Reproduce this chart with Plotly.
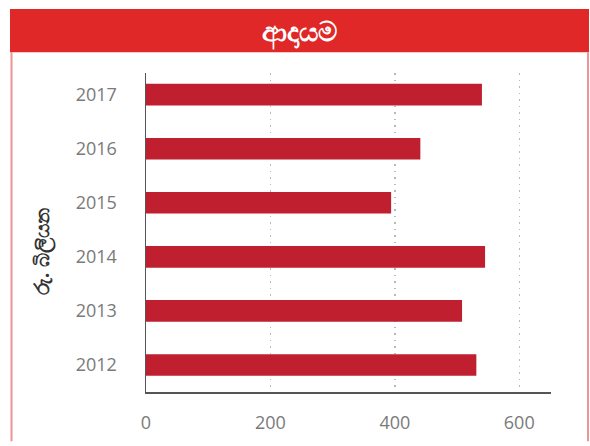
import plotly.graph_objects as go

years = ["2012", "2013", "2014", "2015", "2016", "2017"]
revenue = [531, 508, 545, 394, 441, 540]
x_ticks = [0, 200, 400, 600]
title_text = "ආදායම"
y_title = "රු. බිලියන"

W, H = 590, 446
L, R, T, B = 146, 551, 73, 397
pw, ph = R - L, B - T

def px(x):
    return (x - L) / pw

def py(y):
    return (B - y) / ph

fig = go.Figure()
fig.add_trace(go.Bar(
    y=years, x=revenue, orientation="h", width=0.4,
    marker=dict(color="#C01F2F", line=dict(width=0)),
    hoverinfo="skip",
))

font_fam = "Open Sans, Noto Sans, sans-serif"

fig.update_layout(
    width=W, height=H,
    margin=dict(l=L, r=W - R, t=T, b=H - B),
    paper_bgcolor="white", plot_bgcolor="white",
    showlegend=False,
    bargap=0.6,
    xaxis=dict(
        range=[0, 651], tickvals=x_ticks, ticktext=[str(v) for v in x_ticks],
        showgrid=True, gridcolor="#b8b8b8", griddash="1.5px,5px", gridwidth=1.5,
        zeroline=False, showline=True, linecolor="#555555", linewidth=1.5,
        ticks="", ticklabelstandoff=14,
        tickfont=dict(family=font_fam, size=18, color="#7a7a7a"),
        fixedrange=True,
    ),
    yaxis=dict(
        type="category", categoryorder="array", categoryarray=years,
        range=[-0.5, 5.4],
        showgrid=False, zeroline=False, showline=True, linecolor="#555555", linewidth=1.5,
        ticks="", ticklabelstandoff=24,
        tickfont=dict(family=font_fam, size=18, color="#7a7a7a"),
        fixedrange=True,
    ),
    shapes=[
        dict(type="rect", xref="paper", yref="paper",
             x0=px(10), x1=px(589), y0=py(52), y1=py(8),
             fillcolor="#E02828", line=dict(width=0), layer="below"),
        dict(type="line", xref="paper", yref="paper",
             x0=px(11.5), x1=px(11.5), y0=py(52), y1=py(447),
             line=dict(color="#EE9494", width=2)),
        dict(type="line", xref="paper", yref="paper",
             x0=px(588), x1=px(588), y0=py(52), y1=py(447),
             line=dict(color="#EE9494", width=2)),
    ],
    annotations=[
        dict(text="<b>" + title_text + "</b>", xref="paper", yref="paper",
             x=px(299.5), y=py(30), showarrow=False,
             xanchor="center", yanchor="middle",
             font=dict(family=font_fam, size=27, color="white", weight="bold")),
        dict(text="<b>" + y_title + "</b>", xref="paper", yref="paper",
             x=px(42), y=py(254), showarrow=False, textangle=-90,
             xanchor="center", yanchor="middle",
             font=dict(family=font_fam, size=20, color="#333333", weight="bold")),
    ],
)

fig.write_html(
    "out.html",
    config={"displayModeBar": False, "staticPlot": True},
    post_script="document.body.style.margin='0';document.body.style.overflow='hidden';",
)
